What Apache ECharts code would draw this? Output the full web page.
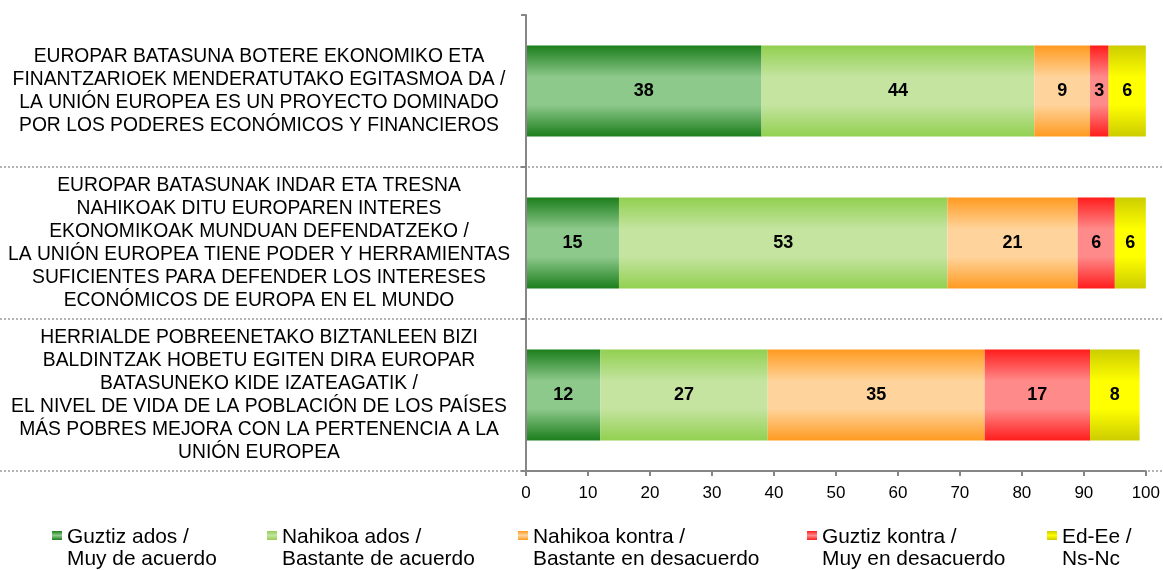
<!DOCTYPE html>
<html>
<head>
<meta charset="utf-8">
<script src="https://cdn.jsdelivr.net/npm/echarts@6/dist/echarts.min.js"></script>
<style>
html,body{margin:0;padding:0;background:#fff;}
#chart{width:1163px;height:570px;}
</style>
</head>
<body>
<div id="chart"></div>
<script>
const categories = [
  'EUROPAR BATASUNA BOTERE EKONOMIKO ETA\nFINANTZARIOEK MENDERATUTAKO EGITASMOA DA /\nLA UNIÓN EUROPEA ES UN PROYECTO DOMINADO\nPOR LOS PODERES ECONÓMICOS Y FINANCIEROS',
  'EUROPAR BATASUNAK INDAR ETA TRESNA\nNAHIKOAK DITU EUROPAREN INTERES\nEKONOMIKOAK MUNDUAN DEFENDATZEKO /\nLA UNIÓN EUROPEA TIENE PODER Y HERRAMIENTAS\nSUFICIENTES PARA DEFENDER LOS INTERESES\nECONÓMICOS DE EUROPA EN EL MUNDO',
  'HERRIALDE POBREENETAKO BIZTANLEEN BIZI\nBALDINTZAK HOBETU EGITEN DIRA EUROPAR\nBATASUNEKO KIDE IZATEAGATIK /\nEL NIVEL DE VIDA DE LA POBLACIÓN DE LOS PAÍSES\nMÁS POBRES MEJORA CON LA PERTENENCIA A LA\nUNIÓN EUROPEA'
];
const seriesNames = [
  'Guztiz ados /\nMuy de acuerdo',
  'Nahikoa ados /\nBastante de acuerdo',
  'Nahikoa kontra /\nBastante en desacuerdo',
  'Guztiz kontra /\nMuy en desacuerdo',
  'Ed-Ee /\nNs-Nc'
];
const guztizAdos    = [38, 15, 12];
const nahikoaAdos   = [44, 53, 27];
const nahikoaKontra = [9, 21, 35];
const guztizKontra  = [3, 6, 17];
const edEe          = [6, 6, 8];
const xTicks = [0, 100, 10];

const seriesValues = [guztizAdos, nahikoaAdos, nahikoaKontra, guztizKontra, edEe];
const palette = [
  ['#1b7e1b', '#8ec98c'],
  ['#92d050', '#c4e4a0'],
  ['#ff9a20', '#ffd49c'],
  ['#ff1c1c', '#ff8a8a'],
  ['#cccc00', '#ffff00']
];
const legendTextWidths = [200, 236, 274, 225, 70];

function barGrad(c) {
  return new echarts.graphic.LinearGradient(0, 0, 0, 1, [
    {offset: 0, color: c[0]}, {offset: 0.35, color: c[1]},
    {offset: 0.65, color: c[1]}, {offset: 1, color: c[0]}
  ]);
}
function iconGrad(c) {
  return new echarts.graphic.LinearGradient(0, 0, 0, 1, [
    {offset: 0, color: c[0]}, {offset: 0.114, color: c[0]},
    {offset: 0.216, color: c[1]}, {offset: 0.318, color: c[0]},
    {offset: 1, color: c[0]}
  ]);
}

const font = 'Liberation Sans, Arial, sans-serif';
const legendRich = {};
legendTextWidths.forEach((w, i) => {
  legendRich['w' + i] = {width: w, fontFamily: font, fontSize: 20.9, lineHeight: 22, color: '#000'};
});

const chart = echarts.init(document.getElementById('chart'), null, {renderer: 'canvas'});

const option = {
  animation: false,
  backgroundColor: '#ffffff',
  grid: [
    {left: 526, right: 17, top: 15, bottom: 99, containLabel: false},
    {left: 0, right: 0, top: 15, bottom: 99, containLabel: false}
  ],
  legend: {
    left: 52,
    top: 526,
    padding: 0,
    itemGap: 0,
    itemWidth: 10,
    itemHeight: 44,
    icon: 'path://M0,5L10,5L10,14L0,14Z M0,0L0.01,0L0.01,0.01Z M9.99,43.99L10,43.99L10,44Z',
    textStyle: {fontFamily: font, fontSize: 20.9, lineHeight: 22, color: '#000', rich: legendRich},
    formatter: function (name) {
      const idx = seriesNames.indexOf(name);
      return name.split('\n').map(l => '{w' + idx + '|' + l + '}').join('\n');
    },
    data: seriesNames.map((n, i) => ({name: n, itemStyle: {color: iconGrad(palette[i])}}))
  },
  xAxis: [
    {
      type: 'value', gridIndex: 0, min: xTicks[0], max: xTicks[1], interval: xTicks[2],
      axisLine: {show: true, lineStyle: {color: '#868686', width: 2}},
      axisTick: {show: true, length: 5, lineStyle: {color: '#868686', width: 2}},
      axisLabel: {fontFamily: font, fontSize: 17, color: '#000', margin: 14},
      splitLine: {show: false},
      z: 3
    },
    {type: 'value', gridIndex: 1, min: 0, max: 1, show: false}
  ],
  yAxis: [
    {
      type: 'category', gridIndex: 0, data: categories, inverse: true,
      axisLine: {show: true, lineStyle: {color: '#868686', width: 2}},
      axisTick: {show: true, length: 5, lineStyle: {color: '#868686', width: 2}},
      axisLabel: {fontFamily: font, fontSize: 19.3, lineHeight: 23, color: '#000', align: 'center', margin: 267},
      splitLine: {show: false},
      z: 3
    },
    {
      type: 'category', gridIndex: 1, data: categories, inverse: true,
      axisLine: {show: false}, axisTick: {show: false}, axisLabel: {show: false},
      splitLine: {show: true, showMinLine: false, showMaxLine: true,
        lineStyle: {color: '#9a9a9a', type: [2, 2], width: 1.5}},
      z: 0
    }
  ],
  series: seriesNames.map((n, i) => ({
    name: n,
    type: 'bar',
    stack: 'total',
    xAxisIndex: 0,
    yAxisIndex: 0,
    barWidth: '60%',
    data: seriesValues[i],
    itemStyle: {color: barGrad(palette[i])},
    label: {show: true, position: 'inside', fontFamily: font, fontWeight: 'bold', fontSize: 18, color: '#000'},
    z: 2
  }))
};
chart.setOption(option);
</script>
</body>
</html>
